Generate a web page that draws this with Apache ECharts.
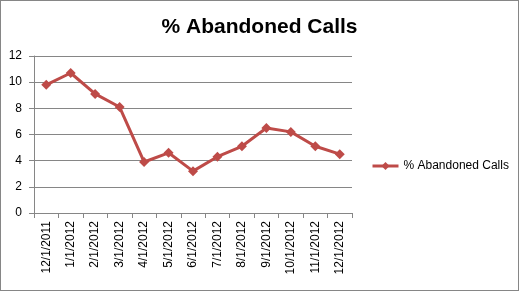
<!DOCTYPE html>
<html><head><meta charset="utf-8">
<script src="https://cdn.jsdelivr.net/npm/echarts@6/dist/echarts.min.js"></script>
<style>html,body{margin:0;padding:0;background:#fff}#c{position:absolute;left:0;top:0;width:517px;height:289px;border:1px solid #868686}</style>
</head><body><div id="c"></div>
<script>
const categories = ['12/1/2011','1/1/2012','2/1/2012','3/1/2012','4/1/2012','5/1/2012','6/1/2012','7/1/2012','8/1/2012','9/1/2012','10/1/2012','11/1/2012','12/1/2012'];
const abandoned = [9.8, 10.7, 9.1, 8.1, 3.9, 4.6, 3.2, 4.3, 5.1, 6.5, 6.2, 5.1, 4.5];
const seriesName = '% Abandoned Calls';
const chart = echarts.init(document.getElementById('c'));
const font = 'Liberation Sans, Arial, sans-serif';
chart.setOption({
  animation: false,
  title: {text: seriesName, left: 'center', top: 11, textStyle: {fontFamily: font, fontSize: 21, fontWeight: 'bold', color: '#000'}},
  legend: {orient: 'vertical', left: 365, top: 154, itemWidth: 26, itemHeight: 10, itemGap: 4,
    lineStyle: {width: 3}, itemStyle: {},
    textStyle: {fontFamily: font, fontSize: 12, color: '#000'}, data: [seriesName]},
  grid: {left: 33, right: 166, top: 55, bottom: 77},
  xAxis: {type: 'category', data: categories, boundaryGap: true,
    axisLine: {lineStyle: {color: '#868686'}}, axisTick: {show: true, length: 5, lineStyle: {color: '#868686'}},
    axisLabel: {rotate: 90, fontFamily: font, fontSize: 12, color: '#000', margin: 8, interval: 0}},
  yAxis: {type: 'value', min: 0, max: 12, interval: 2,
    axisLine: {show: true, lineStyle: {color: '#868686'}}, axisTick: {show: true, length: 5, lineStyle: {color: '#868686'}},
    splitLine: {lineStyle: {color: '#868686'}},
    axisLabel: {fontFamily: font, fontSize: 12, color: '#000', margin: 12}},
  series: [{name: seriesName, type: 'line', data: abandoned, symbol: 'diamond', symbolSize: 10,
    lineStyle: {color: '#be4b48', width: 3}, itemStyle: {color: '#be4b48'}}]
});
</script></body></html>
